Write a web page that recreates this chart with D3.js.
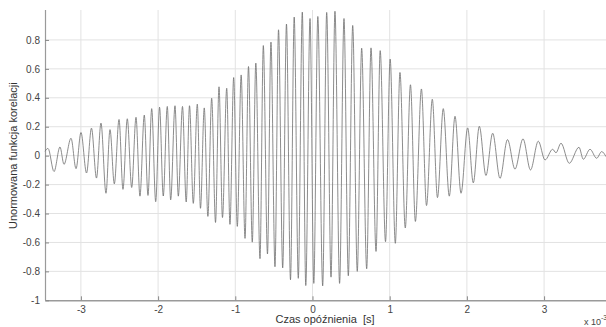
<!DOCTYPE html>
<html lang="pl">
<head>
  <meta charset="UTF-8">
  <title>Funkcja korelacji</title>
  <script src="https://cdn.jsdelivr.net/npm/d3@7"></script>
  <style>
    body { margin: 0; background: #fff; }
    text { font-family: Arial, "Liberation Sans", sans-serif; }
  </style>
</head>
<body>
<div id="chart"></div>
<script>
  // opoznienie (x 10^-3 s) i wartosci kolejnych ekstremow
  var lagValues = [
    -3.465, -3.426, -3.348, -3.271, -3.219, -3.128, -3.063, -2.999, -2.927, -2.863,
    -2.798, -2.740, -2.675, -2.623, -2.567, -2.506, -2.455, -2.399, -2.342, -2.286,
    -2.235, -2.179, -2.131, -2.083, -2.031, -1.981, -1.933, -1.881, -1.837, -1.781,
    -1.738, -1.684, -1.636, -1.593, -1.544, -1.492, -1.451, -1.402, -1.355, -1.306,
    -1.256, -1.211, -1.166, -1.111, -1.069, -1.021, -0.974, -0.924, -0.874, -0.829,
    -0.780, -0.734, -0.680, -0.637, -0.583, -0.538, -0.486, -0.440, -0.386, -0.337,
    -0.285, -0.237, -0.184, -0.132, -0.087, -0.032, 0.017, 0.069, 0.132, 0.184,
    0.240, 0.291, 0.351, 0.408, 0.464, 0.521, 0.580, 0.637, 0.702, 0.758,
    0.823, 0.877, 0.946, 1.006, 1.073, 1.133, 1.202, 1.269, 1.333, 1.411,
    1.477, 1.552, 1.619, 1.694, 1.772, 1.846, 1.924, 2.010, 2.083, 2.161,
    2.247, 2.334, 2.429, 2.526, 2.623, 2.727, 2.824, 2.925, 3.012, 3.111,
    3.154, 3.219, 3.326, 3.452, 3.508, 3.595, 3.681, 3.746, 3.802
  ];
  var corrValues = [
    0.03, 0.05, -0.11, 0.06, -0.06, 0.12, -0.09, 0.16, -0.12, 0.19,
    -0.155, 0.225, -0.26, 0.18, -0.195, 0.25, -0.233, 0.255, -0.22, 0.265,
    -0.28, 0.28, -0.275, 0.325, -0.318, 0.335, -0.279, 0.34, -0.305, 0.345,
    -0.28, 0.34, -0.32, 0.345, -0.33, 0.356, -0.364, 0.33, -0.42, 0.397,
    -0.462, 0.476, -0.428, 0.466, -0.475, 0.54, -0.489, 0.558, -0.572, 0.616,
    -0.598, 0.64, -0.712, 0.761, -0.68, 0.785, -0.768, 0.87, -0.776, 0.91,
    -0.858, 0.958, -0.848, 0.992, -0.898, 0.948, -0.883, 0.962, -0.9, 0.99,
    -0.84, 0.998, -0.883, 0.948, -0.83, 0.9, -0.8, 0.743, -0.782, 0.745,
    -0.662, 0.726, -0.595, 0.668, -0.606, 0.575, -0.5, 0.49, -0.455, 0.461,
    -0.345, 0.39, -0.29, 0.325, -0.28, 0.272, -0.26, 0.192, -0.188, 0.203,
    -0.137, 0.155, -0.157, 0.111, -0.093, 0.116, -0.099, 0.1, -0.03, 0.044,
    0.02, 0.086, -0.053, 0.058, -0.025, 0.044, -0.018, 0.028, -0.007
  ];
  var xTicks = [-3, -2, -1, 0, 1, 2, 3];
  var yTicks = [-1, -0.8, -0.6, -0.4, -0.2, 0, 0.2, 0.4, 0.6, 0.8];

  var width = 606, height = 327;
  var padLeft = 45, padRight = 606, padTop = 11, padBottom = 300.3;

  var svg = d3.select('#chart').append('svg')
    .attr('width', width)
    .attr('height', height);

  var x = d3.scaleLinear().domain([-3.465, 3.802]).range([padLeft, padRight]);
  var y = d3.scaleLinear().domain([-1, 1]).range([padBottom, padTop]);

  // siatka
  svg.append('g').selectAll('line').data(xTicks).enter().append('line')
    .attr('x1', function (d) { return x(d); })
    .attr('x2', function (d) { return x(d); })
    .attr('y1', padTop - 1).attr('y2', padBottom)
    .attr('stroke', '#e2e2e2').attr('stroke-width', 1);
  svg.append('g').selectAll('line').data(yTicks.filter(function (d) { return d > -1; })).enter().append('line')
    .attr('x1', padLeft).attr('x2', padRight)
    .attr('y1', function (d) { return y(d); })
    .attr('y2', function (d) { return y(d); })
    .attr('stroke', '#e2e2e2').attr('stroke-width', 1);

  // osie
  var xAxis = d3.axisBottom(x).tickValues(xTicks).tickSizeInner(-4).tickSizeOuter(0).tickPadding(6)
    .tickFormat(function (d) { return String(d); });
  var gx = svg.append('g').attr('transform', 'translate(0,' + padBottom + ')').call(xAxis);
  gx.select('.domain').attr('stroke', '#9a9a9a').attr('stroke-width', 1.5);
  gx.selectAll('.tick line').attr('stroke', '#888');
  gx.selectAll('text').attr('fill', '#444').style('font-size', '10px');

  var yAxis = d3.axisLeft(y).tickValues(yTicks).tickSizeInner(-4).tickSizeOuter(0).tickPadding(5)
    .tickFormat(function (d) { return String(d); });
  var gy = svg.append('g').attr('transform', 'translate(' + padLeft + ',0)').call(yAxis);
  gy.select('.domain').attr('stroke', '#9a9a9a').attr('stroke-width', 1.2)
    .attr('d', 'M0.5,' + (padTop - 1) + 'V' + padBottom);
  gy.selectAll('.tick line').attr('stroke', '#888');
  gy.selectAll('text').attr('fill', '#444').style('font-size', '10px');

  // przebieg funkcji korelacji
  var points = lagValues.map(function (t, i) { return [t, corrValues[i]]; });
  var line = d3.line()
    .x(function (d) { return x(d[0]); })
    .y(function (d) { return y(d[1]); })
    .curve(d3.curveMonotoneX);
  svg.append('path')
    .datum(points)
    .attr('d', line)
    .attr('fill', 'none')
    .attr('stroke', '#6e6e6e')
    .attr('stroke-width', 0.8);

  // opisy osi
  svg.append('text')
    .attr('transform', 'translate(17,' + ((padTop + padBottom) / 2) + ') rotate(-90)')
    .attr('text-anchor', 'middle')
    .attr('fill', '#333')
    .style('font-size', '11px')
    .text('Unormowana funkcja korelacji');

  svg.append('text')
    .attr('x', 325).attr('y', 323)
    .attr('text-anchor', 'middle')
    .attr('fill', '#333')
    .style('font-size', '11px')
    .attr('xml:space', 'preserve')
    .text('Czas opóźnienia  [s]');

  var mult = svg.append('text')
    .attr('x', 584).attr('y', 325)
    .attr('fill', '#444')
    .style('font-size', '9px');
  mult.append('tspan').text('x 10');
  mult.append('tspan').attr('dy', -5).style('font-size', '7px').text('-3');
</script>
</body>
</html>
